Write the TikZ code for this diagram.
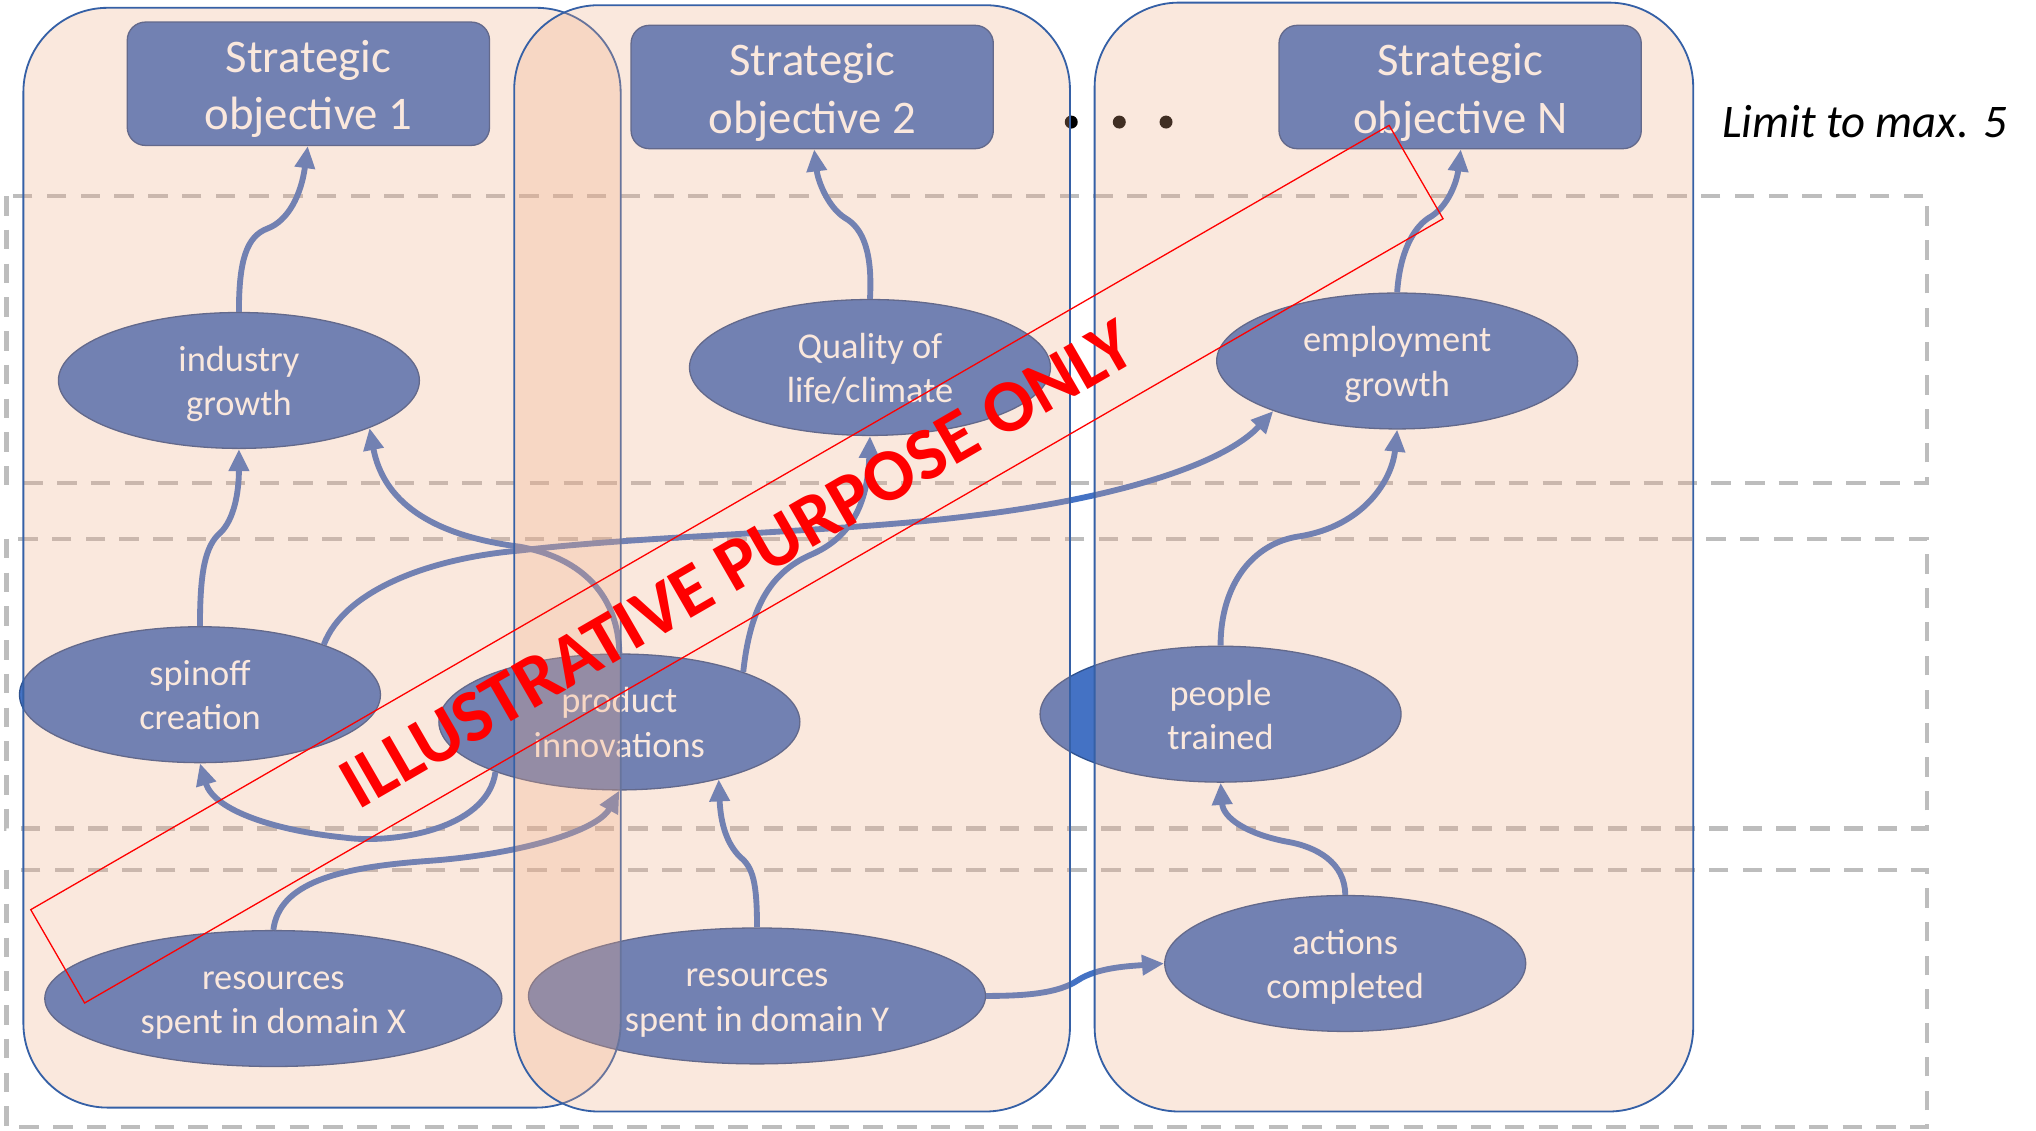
\documentclass[tikz,border=0pt]{standalone}
\usepackage{fontspec}
\setmainfont{Carlito}
\usetikzlibrary{arrows.meta,shapes.geometric}
\definecolor{nodeblue}{HTML}{4472C4}
\definecolor{nodeedge}{HTML}{2F528F}
\definecolor{laneedge}{HTML}{3560A6}
\definecolor{lanefill}{RGB}{240,170,130}
\definecolor{tiergray}{HTML}{BDBDBD}
\definecolor{stampred}{HTML}{FF0000}
% two-line labels set with fixed line boxes
\newcommand\elltext[2]{\rule{0pt}{30pt}#1\\#2\rule[-10pt]{0pt}{10pt}}
\newcommand\objtext[2]{\rule{0pt}{39pt}#1\\#2\rule[-12pt]{0pt}{12pt}}
\begin{document}
\begin{tikzpicture}[x=1pt,y=-1pt,
  effect/.style={ellipse, draw=nodeedge, line width=1pt, fill=nodeblue,
    text=white, minimum width=278pt, minimum height=104pt, inner sep=0pt,
    align=center, font=\fontsize{28}{34}\selectfont},
  wideeffect/.style={effect, minimum width=352pt},
  objective/.style={rectangle, rounded corners=14pt, draw=nodeedge,
    line width=1pt, fill=nodeblue, text=white, minimum width=279pt,
    minimum height=93pt, inner sep=0pt, align=center,
    font=\fontsize{36}{44}\selectfont},
  link/.style={draw=nodeblue, line width=4.5pt,
    -{Triangle[length=17pt,width=15pt]}},
  tier/.style={draw=tiergray, line width=3.5pt, dash pattern=on 15pt off 11pt},
  lane/.style={draw=laneedge, line width=1.4pt, fill=lanefill,
    fill opacity=0.27, rounded corners=65pt}]

% canvas
\fill[white] (0,0) rectangle (1568,871);
\useasboundingbox (0,0) rectangle (1568,871);

% tiers of the result chain
\draw[tier] (5,151) rectangle (1484,372);
\draw[tier] (5,415) rectangle (1484,638);
\draw[tier] (5,670) rectangle (1484,868);

% strategic objectives
\node[objective] (so1) at (237.5,64.5) {\objtext{Strategic}{objective 1}};
\node[objective] (so2) at (625.5,67) {\objtext{Strategic}{objective 2}};
\node[objective] (son) at (1124.5,67) {\objtext{Strategic}{objective N}};

% impacts
\node[effect] (ig)  at (184,293)  {\elltext{industry}{growth}};
\node[effect] (qol) at (670,283)  {\elltext{Quality of}{life/climate}};
\node[effect] (eg)  at (1076,278) {\elltext{employment}{growth}};

% outcomes
\node[effect] (sc) at (154,535) {\elltext{spinoff}{creation}};
\node[effect] (pi) at (477,556) {\elltext{product}{innovations}};
\node[effect] (pt) at (940,550) {\elltext{people}{trained}};

% inputs and outputs
\node[wideeffect] (rx) at (210.5,769) {\elltext{resources}{spent in domain X}};
\node[wideeffect] (ry) at (583,767)   {\elltext{resources}{spent in domain Y}};
\node[effect]     (ac) at (1036,742)  {\elltext{actions}{completed}};

% causal links
\draw[link] (ig.north) .. controls (184,200) and (190,182) .. (206,176)
  .. controls (222,170) and (232,150) .. (so1.south -| 237,0);
\draw[link] (qol.north) .. controls (672,195) and (665,176) .. (651,168)
  .. controls (638,160) and (630,140) .. (so2.south -| 627,0);
\draw[link] (eg.north) .. controls (1078,195) and (1088,176) .. (1100,168)
  .. controls (1115,160) and (1122,140) .. (son.south -| 1125,0);
\draw[link] (sc.north) .. controls (154,440) and (158,420) .. (170,410)
  .. controls (180,400) and (184,380) .. (ig.south);
\draw[link] (pi.north) .. controls (476,460) and (450,430) .. (400,421)
  .. controls (330,412) and (295,385) .. (ig.-20);
\draw[link] (sc.22) .. controls (265,455) and (330,430) .. (400,424)
  .. controls (500,412) and (650,410) .. (750,397)
  .. controls (850,385) and (940,360) .. (eg.202);
\draw[link] (pi.22) .. controls (578,465) and (595,440) .. (625,427)
  .. controls (650,416) and (668,395) .. (qol.south);
\draw[link] (pi.202) .. controls (375,640) and (300,650) .. (265,645)
  .. controls (215,640) and (165,625) .. (sc.south);
\draw[link] (rx.north) .. controls (215,680) and (260,668) .. (330,663)
  .. controls (400,658) and (460,640) .. (pi.south);
\draw[link] (ry.north) .. controls (583,680) and (580,668) .. (570,660)
  .. controls (560,650) and (555,635) .. (pi.-30);
\draw[link] (ry.east) .. controls (790,767) and (815,765) .. (830,755)
  .. controls (845,745) and (870,744) .. (ac.west);
\draw[link] (ac.north) .. controls (1036,665) and (1015,652) .. (990,648)
  .. controls (960,642) and (942,630) .. (pt.south);
\draw[link] (pt.north) .. controls (940,450) and (965,418) .. (1001,413)
  .. controls (1050,405) and (1072,370) .. (eg.south);

% ellipsis between the objectives
\fill[black] (825,94) circle (5pt) (862,94) circle (5pt) (898,94) circle (5pt);

% objective lanes
\draw[lane] (18,6) rectangle (478,853);
\draw[lane] (396,4) rectangle (824,856);
\draw[lane] (843,2) rectangle (1304,856);

\node[anchor=base west, font=\itshape\fontsize{36}{44}\selectfont,
  inner sep=0pt] (limit) at (1326,106) {Limit to max. 5};

% stamp
\node[draw=stampred, line width=1pt, rotate=30, minimum width=1208pt,
  minimum height=83pt, inner sep=0pt, text=stampred,
  font=\bfseries\fontsize{57}{62}\selectfont] (stamp) at (567.5,434.5)
  {ILLUSTRATIVE PURPOSE ONLY};
\end{tikzpicture}
\end{document}
